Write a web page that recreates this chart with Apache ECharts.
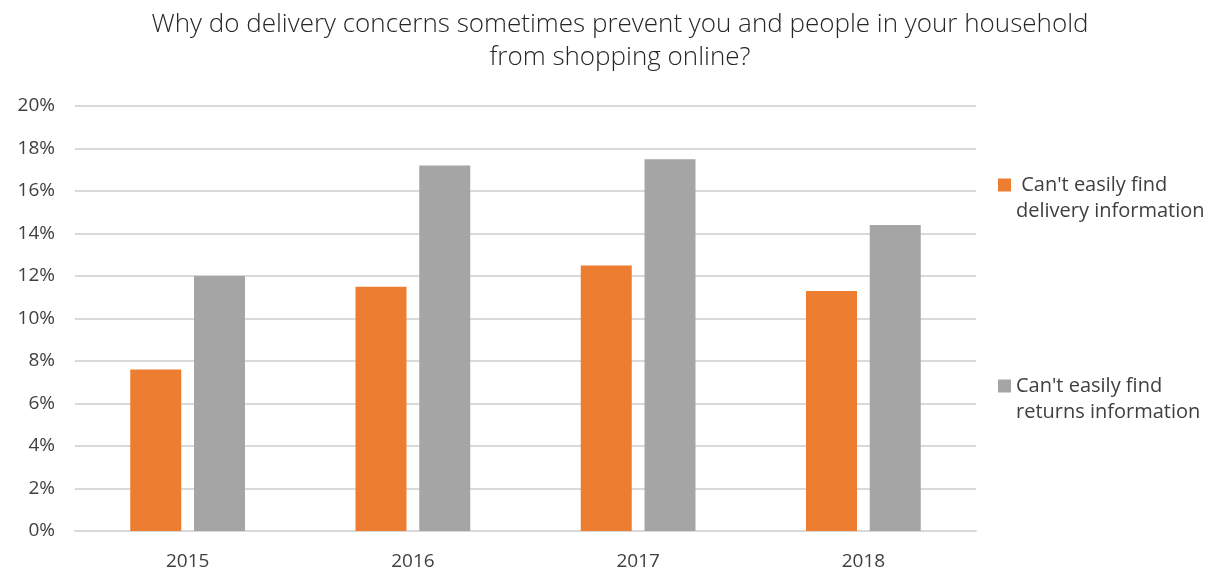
<!DOCTYPE html>
<html>
<head>
<meta charset="utf-8">
<script src="https://cdn.jsdelivr.net/npm/echarts@6/dist/echarts.min.js"></script>
<style>
  html, body { margin: 0; padding: 0; background: #fff; }
  #main { width: 1217px; height: 571px; }
</style>
</head>
<body>
<div id="main"></div>
<script>
var chartDom = document.getElementById('main');
var myChart = echarts.init(chartDom);
var option;

const FONT = '"Open Sans", "Noto Sans", sans-serif';
const gridColor = '#d9d9d9';

const years = ['2015', '2016', '2017', '2018'];
const deliveryInfo = [7.6, 11.5, 12.5, 11.3];
const returnsInfo = [12.0, 17.2, 17.5, 14.4];

const deliveryName = " Can't easily find\ndelivery information";
const returnsName = "Can't easily find\nreturns information";

// the blank first line keeps the icon level with the first text line
function legendFor(name, top)
{
  return {
    orient: 'vertical',
    left: 993,
    top: top,
    icon: 'rect',
    itemWidth: 13,
    itemHeight: 13,
    data: [name],
    formatter: n => '\n' + n,
    textStyle: {
      fontFamily: FONT,
      fontSize: 20,
      color: '#404040',
      lineHeight: 26
    }
  };
}

option = {
  backgroundColor: '#fff',
  title: {
    text: 'Why do delivery concerns sometimes prevent you and people in your household\nfrom shopping online?',
    left: 615,
    top: 3,
    textAlign: 'center',
    textStyle: {
      fontFamily: FONT,
      fontWeight: 300,
      fontSize: 26,
      lineHeight: 33,
      color: '#262626'
    }
  },
  legend: [
    legendFor(deliveryName, 141),
    legendFor(returnsName, 342)
  ],
  grid: {
    left: 75,
    right: 241,
    top: 106,
    bottom: 40,
    containLabel: false
  },
  xAxis: {
    type: 'category',
    data: years,
    axisLine: { lineStyle: { color: gridColor, width: 2 } },
    axisTick: { show: false },
    axisLabel: {
      fontFamily: FONT,
      fontSize: 19,
      color: '#404040',
      margin: 21
    }
  },
  yAxis: {
    type: 'value',
    min: 0,
    max: 20,
    interval: 2,
    axisLine: { show: false },
    axisTick: { show: false },
    splitLine: { lineStyle: { color: gridColor, width: 2 } },
    axisLabel: {
      fontFamily: FONT,
      fontSize: 19,
      color: '#404040',
      margin: 20,
      formatter: '{value}%'
    }
  },
  series: [
    {
      name: deliveryName,
      type: 'bar',
      data: deliveryInfo,
      barWidth: 51,
      barGap: '25%',
      itemStyle: { color: '#ed7d31' }
    },
    {
      name: returnsName,
      type: 'bar',
      data: returnsInfo,
      barWidth: 51,
      barGap: '25%',
      itemStyle: { color: '#a5a5a5' }
    }
  ]
};

option && myChart.setOption(option);
</script>
</body>
</html>
